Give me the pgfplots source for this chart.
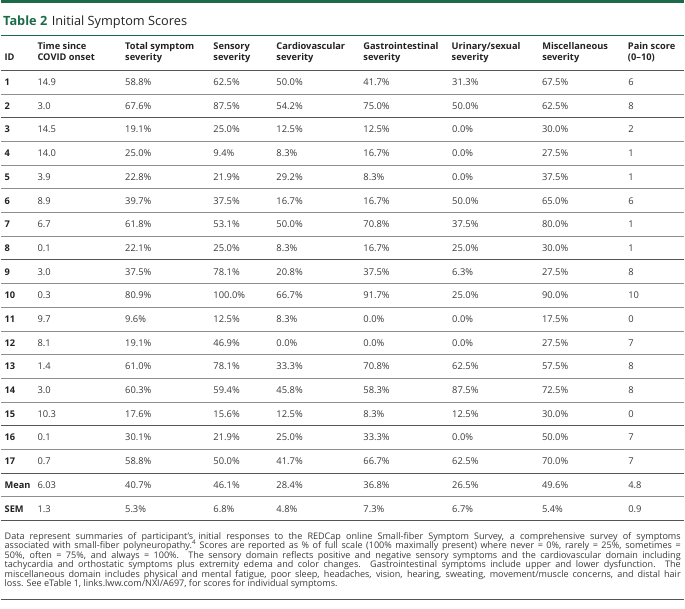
\documentclass[border=0pt]{standalone}
\usepackage{pgfplots}
\pgfplotsset{compat=1.18}
\usepackage{pgfplotstable}
\usepackage{fontspec}
\setmainfont{Open Sans}
\definecolor{tgreen}{HTML}{1B6B4B}
\definecolor{txt}{HTML}{3A3A3A}
\definecolor{hdr}{HTML}{222222}
\definecolor{rulec}{HTML}{8E8E8E}
\definecolor{ruled}{HTML}{555555}

\pgfplotstableread{
id time total sens cardio gi uri misc pain
1 14.9 58.8 62.5 50.0 41.7 31.3 67.5 6
2 3.0 67.6 87.5 54.2 75.0 50.0 62.5 8
3 14.5 19.1 25.0 12.5 12.5 0.0 30.0 2
4 14.0 25.0 9.4 8.3 16.7 0.0 27.5 1
5 3.9 22.8 21.9 29.2 8.3 0.0 37.5 1
6 8.9 39.7 37.5 16.7 16.7 50.0 65.0 6
7 6.7 61.8 53.1 50.0 70.8 37.5 80.0 1
8 0.1 22.1 25.0 8.3 16.7 25.0 30.0 1
9 3.0 37.5 78.1 20.8 37.5 6.3 27.5 8
10 0.3 80.9 100.0 66.7 91.7 25.0 90.0 10
11 9.7 9.6 12.5 8.3 0.0 0.0 17.5 0
12 8.1 19.1 46.9 0.0 0.0 0.0 27.5 7
13 1.4 61.0 78.1 33.3 70.8 62.5 57.5 8
14 3.0 60.3 59.4 45.8 58.3 87.5 72.5 8
15 10.3 17.6 15.6 12.5 8.3 12.5 30.0 0
16 0.1 30.1 21.9 25.0 33.3 0.0 50.0 7
17 0.7 58.8 50.0 41.7 66.7 62.5 70.0 7
Mean 6.03 40.7 46.1 28.4 36.8 26.5 49.6 4.8
SEM 1.3 5.3 6.8 4.8 7.3 6.7 5.4 0.9
}\data

\newcommand{\tabcol}[4]{%
\addplot[only marks, mark=*, mark size=0pt, mark options={draw=none, fill=none},
  point meta=explicit symbolic, nodes near coords={#3},
  nodes near coords align={anchor=base west},
  every node near coord/.append style={anchor=base west, inner sep=0pt, #4}]
  table[x expr=#1, y expr=85.9+23.8*\coordindex, meta=#2] {\data};}

\newcommand{\hd}[3]{\node[anchor=base west, inner sep=0pt, text=hdr, font=\bfseries\fontsize{9.3}{11}\selectfont] at (axis cs:#1,#2) {#3};}
\newcommand{\fn}[2]{\node[anchor=base west, inner sep=0pt, text=txt, font=\fontsize{9.1}{9.6}\selectfont] at (axis cs:3,#1) {#2};}

\begin{document}
\begin{tikzpicture}
\begin{axis}[
  width=685pt, height=611pt, scale only axis,
  xmin=0, xmax=685, ymin=0, ymax=611, y dir=reverse,
  hide axis, clip=false,
]
\addplot[draw=none, mark=none] coordinates {(0,0) (685,611)};
% top bar and title rule
\addplot[tgreen, line width=3pt, mark=none] coordinates {(0,1.5) (685,1.5)};
\addplot[tgreen, line width=1.2pt, mark=none] coordinates {(0,35.5) (685,35.5)};
% header rule
\addplot[ruled, line width=1.2pt, mark=none] coordinates {(0,70.7) (685,70.7)};
% row rules
\pgfplotsinvokeforeach{94.5,142.1,165.9,189.7,213.5,237.3,284.9,308.7,332.5,356.3,380.1,403.9,451.5,499.1}{
  \addplot[rulec, line width=0.9pt, mark=none] coordinates {(0,#1) (685,#1)};
}
\pgfplotsinvokeforeach{118.3,261.1,427.7,475.3,522.9}{
  \addplot[ruled, line width=1pt, mark=none] coordinates {(0,#1) (685,#1)};
}
\addplot[ruled, line width=1.3pt, mark=none] coordinates {(0,602) (685,602)};

% title
\node[anchor=base west, inner sep=0pt, text=hdr, font=\fontsize{12.8}{15}\selectfont] at (axis cs:1.5,25.5)
  {\textcolor{tgreen}{\bfseries Table 2}\hspace{0.35em}Initial Symptom Scores};

% headers
\hd{3}{60.8}{ID}
\hd{36}{49.3}{Time since}   \hd{36}{60.8}{COVID onset}
\hd{124}{49.3}{Total symptom} \hd{124}{60.8}{severity}
\hd{212.7}{49.3}{Sensory} \hd{212.7}{60.8}{severity}
\hd{276}{49.3}{Cardiovascular} \hd{276}{60.8}{severity}
\hd{363.3}{49.3}{Gastrointestinal} \hd{363.3}{60.8}{severity}
\hd{452}{49.3}{Urinary/sexual} \hd{452}{60.8}{severity}
\hd{543}{49.3}{Miscellaneous} \hd{543}{60.8}{severity}
\hd{629}{49.3}{Pain score} \hd{629}{60.8}{(0–10)}

% body
\tabcol{3}{id}{\pgfplotspointmeta}{text=hdr, font=\bfseries\fontsize{9.3}{11}\selectfont}
\tabcol{36}{time}{\pgfplotspointmeta}{text=txt, font=\fontsize{9.4}{11}\selectfont}
\tabcol{124}{total}{\pgfplotspointmeta\%}{text=txt, font=\fontsize{9.4}{11}\selectfont}
\tabcol{212.7}{sens}{\pgfplotspointmeta\%}{text=txt, font=\fontsize{9.4}{11}\selectfont}
\tabcol{276}{cardio}{\pgfplotspointmeta\%}{text=txt, font=\fontsize{9.4}{11}\selectfont}
\tabcol{363.3}{gi}{\pgfplotspointmeta\%}{text=txt, font=\fontsize{9.4}{11}\selectfont}
\tabcol{452.5}{uri}{\pgfplotspointmeta\%}{text=txt, font=\fontsize{9.4}{11}\selectfont}
\tabcol{542.7}{misc}{\pgfplotspointmeta\%}{text=txt, font=\fontsize{9.4}{11}\selectfont}
\tabcol{629.3}{pain}{\pgfplotspointmeta}{text=txt, font=\fontsize{9.4}{11}\selectfont}

% footnote
\fn{541.5}{\makebox[679pt][s]{Data represent summaries of participant’s initial responses to the REDCap online Small-fiber Symptom Survey, a comprehensive survey of symptoms}}
\fn{551.1}{\makebox[679pt][s]{associated with small-fiber polyneuropathy.\textsuperscript{4} Scores are reported as \% of full scale (100\% maximally present) where never = 0\%, rarely = 25\%, sometimes =}}
\fn{560.7}{\makebox[679pt][s]{50\%, often = 75\%, and always = 100\%. The sensory domain reflects positive and negative sensory symptoms and the cardiovascular domain including}}
\fn{570.3}{\makebox[679pt][s]{tachycardia and orthostatic symptoms plus extremity edema and color changes. Gastrointestinal symptoms include upper and lower dysfunction. The}}
\fn{579.9}{\makebox[679pt][s]{miscellaneous domain includes physical and mental fatigue, poor sleep, headaches, vision, hearing, sweating, movement/muscle concerns, and distal hair}}
\fn{589.5}{loss. See eTable 1, links.lww.com/NXI/A697, for scores for individual symptoms.}
\end{axis}
\end{tikzpicture}
\end{document}
